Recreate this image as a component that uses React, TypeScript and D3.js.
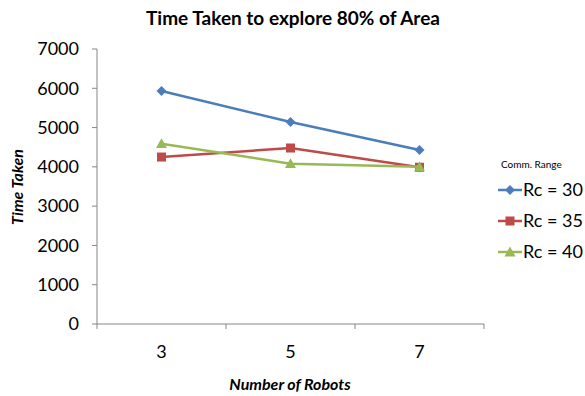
import React from "react";
import * as d3 from "d3";

const categories = ["3", "5", "7"];
const yTicks = [0, 1000, 2000, 3000, 4000, 5000, 6000, 7000];
const seriesNames = ["Rc = 30", "Rc = 35", "Rc = 40"];
const rc30 = [5930, 5140, 4430];
const rc35 = [4250, 4480, 3990];
const rc40 = [4590, 4080, 4000];
const colors = ["#4A7EBB", "#BE4B48", "#98B954"];
const markers = ["diamond", "square", "triangle"];

const W = 585;
const H = 396;
const FONT = "Lato, 'Open Sans', sans-serif";

function Marker({ kind, x, y, color }: { kind: string; x: number; y: number; color: string }) {
  if (kind === "diamond") {
    const s = 5;
    return <path d={`M${x},${y - s}L${x + s},${y}L${x},${y + s}L${x - s},${y}Z`} fill={color} />;
  }
  if (kind === "square") {
    const s = 4.5;
    return <rect x={x - s} y={y - s} width={2 * s} height={2 * s} fill={color} />;
  }
  const s = 5.5;
  return <path d={`M${x},${y - s}L${x + s},${y + s * 0.8}L${x - s},${y + s * 0.8}Z`} fill={color} />;
}

export default function App() {
  const x = d3.scaleBand<string>().domain(categories).range([97, 484]);
  const y = d3.scaleLinear().domain([0, 7000]).range([324, 49]);
  const series = [rc30, rc35, rc40];
  const line = d3
    .line<number>()
    .x((_, i) => (x(categories[i]) as number) + x.bandwidth() / 2)
    .y((d) => y(d));
  const edges = [...categories.map((c) => x(c) as number), 484];

  return (
    <svg width={W} height={H} style={{ position: "absolute", left: 0, top: 0, background: "#fff" }}>
      <text x={293} y={25} textAnchor="middle" fontFamily={FONT} fontWeight="bold" fontSize={19} fill="#000">
        Time Taken to explore 80% of Area
      </text>
      {/* axes */}
      <line x1={97} x2={97} y1={y(7000)} y2={324} stroke="#868686" />
      <line x1={97} x2={484} y1={324} y2={324} stroke="#868686" />
      {yTicks.map((t) => (
        <g key={t}>
          <line x1={92} x2={97} y1={y(t)} y2={y(t)} stroke="#868686" />
          <text x={79} y={y(t)} dy="0.35em" textAnchor="end" fontFamily={FONT} fontSize={18} fill="#000">
            {t}
          </text>
        </g>
      ))}
      {edges.map((e, i) => (
        <line key={i} x1={e} x2={e} y1={324} y2={329} stroke="#868686" />
      ))}
      {categories.map((c) => (
        <text key={c} x={(x(c) as number) + x.bandwidth() / 2} y={358} textAnchor="middle" fontFamily={FONT} fontSize={18} fill="#000">
          {c}
        </text>
      ))}
      <text x={290} y={390} textAnchor="middle" fontFamily={FONT} fontWeight="bold" fontStyle="italic" fontSize={16} fill="#000">
        Number of Robots
      </text>
      <text transform="translate(23,187) rotate(-90)" textAnchor="middle" fontFamily={FONT} fontWeight="bold" fontStyle="italic" fontSize={16} fill="#000">
        Time Taken
      </text>
      {/* series */}
      {series.map((s, si) => (
        <g key={si}>
          <path d={line(s) as string} fill="none" stroke={colors[si]} strokeWidth={2.5} strokeLinejoin="round" />
          {s.map((v, i) => (
            <Marker key={i} kind={markers[si]} x={(x(categories[i]) as number) + x.bandwidth() / 2} y={y(v)} color={colors[si]} />
          ))}
        </g>
      ))}
      {/* legend */}
      <text x={501} y={168} fontFamily={FONT} fontSize={10} fill="#000">
        Comm. Range
      </text>
      {seriesNames.map((n, i) => {
        const ly = 190 + i * 31;
        return (
          <g key={n}>
            <line x1={498} x2={522} y1={ly} y2={ly} stroke={colors[i]} strokeWidth={2.5} />
            <Marker kind={markers[i]} x={510} y={ly} color={colors[i]} />
            <text x={523} y={ly} dy="0.35em" fontFamily={FONT} fontSize={18} fill="#000">
              {n}
            </text>
          </g>
        );
      })}
    </svg>
  );
}
